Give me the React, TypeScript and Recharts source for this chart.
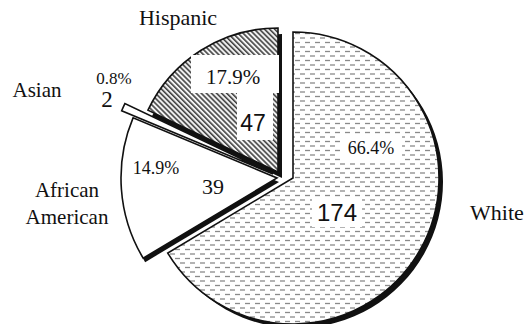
import { PieChart, Pie, Cell } from "recharts";

const groups = ["White", "African American", "Asian", "Hispanic"];
const counts = [174, 39, 2, 47];

const data = groups.map((name, i) => ({ name, count: counts[i] }));

const W = 527;
const H = 324;
const CX = 293;
const CY = 178;

// exploded offset, radius, fill and drop shadow for each slice (same order as groups)
const slices = [
  { dx: 0, dy: 0, r: 146, fill: "url(#white-dash)", sx: 4, sy: 4 },
  { dx: -16, dy: 0, r: 156, fill: "#fff", sx: 2, sy: 4 },
  { dx: -20, dy: -4, r: 164, fill: "#fff", sx: 0, sy: 0 },
  { dx: -15, dy: -6, r: 144, fill: "url(#hisp-hatch)", sx: 4, sy: 6 },
];

type Item = {
  kind: "pct" | "val" | "name";
  dx: number;
  dy: number;
  size: number;
  sans?: boolean;
  box?: [number, number, number, number];
};

// label placement relative to each slice's own centre
const layout: Item[][] = [
  [
    { kind: "pct", dx: 78, dy: -30, size: 18, box: [62, 26, 0, 0] },
    { kind: "val", dx: 44, dy: 34, size: 24, sans: true, box: [50, 30, 0, 0] },
    { kind: "name", dx: 204, dy: 34, size: 22 },
  ],
  [
    { kind: "pct", dx: -121, dy: -10, size: 18 },
    { kind: "val", dx: -64, dy: 8, size: 22 },
    { kind: "name", dx: -210, dy: 12, size: 21 },
  ],
  [
    { kind: "pct", dx: -159, dy: -96, size: 17 },
    { kind: "val", dx: -166, dy: -75, size: 23 },
    { kind: "name", dx: -236, dy: -84, size: 21 },
  ],
  [
    { kind: "pct", dx: -45, dy: -95, size: 21, box: [88, 38, 2, -3] },
    { kind: "val", dx: -25, dy: -49, size: 23, sans: true, box: [36, 48, 2, -7] },
    { kind: "name", dx: -100, dy: -155, size: 22 },
  ],
];

const serif = "'Liberation Serif', 'Times New Roman', serif";
const sans = "'Liberation Sans', Arial, sans-serif";

const makeLabel = (slice: number) => (p: any) => {
  if (p.index !== slice) return null;
  return (
    <g>
      {layout[slice].map((it, k) => {
        const x = p.cx + it.dx;
        const y = p.cy + it.dy;
        let lines: string[];
        if (it.kind === "pct") lines = [(p.percent * 100).toFixed(1) + "%"];
        else if (it.kind === "val") lines = [String(p.value)];
        else lines = p.name.split(" ");
        return (
          <g key={k}>
            {it.box && (
              <rect
                x={x - it.box[0] / 2 + it.box[2]}
                y={y - it.box[1] / 2 + it.box[3]}
                width={it.box[0]}
                height={it.box[1]}
                fill="#fff"
              />
            )}
            {lines.map((ln, j) => (
              <text
                key={j}
                x={x}
                y={y + j * 27}
                textAnchor="middle"
                dominantBaseline="central"
                fontSize={it.size}
                fontFamily={it.sans ? sans : serif}
                fill="#111"
              >
                {ln}
              </text>
            ))}
          </g>
        );
      })}
    </g>
  );
};

export default function App() {
  return (
    <div style={{ position: "absolute", left: 0, top: 0, width: W, height: H, background: "#fff" }}>
      <PieChart width={W} height={H} margin={{ top: 0, right: 0, bottom: 0, left: 0 }}>
        <defs>
          <pattern id="white-dash" width="10" height="9" patternUnits="userSpaceOnUse">
            <rect width="10" height="9" fill="#fff" />
            <line x1="0" y1="2" x2="5" y2="2" stroke="#8a8a8a" strokeWidth="1.3" />
            <line x1="5" y1="6.5" x2="10" y2="6.5" stroke="#8a8a8a" strokeWidth="1.3" />
          </pattern>
          <pattern
            id="hisp-hatch"
            width="3.6"
            height="3.6"
            patternUnits="userSpaceOnUse"
            patternTransform="rotate(-45)"
          >
            <rect width="3.6" height="3.6" fill="#f2f2f2" />
            <line x1="0.8" y1="0" x2="0.8" y2="3.6" stroke="#2a2a2a" strokeWidth="1.4" />
          </pattern>
        </defs>
        {slices.map((s, i) => [
          s.sx || s.sy ? (
            <Pie
              key={`shadow-${i}`}
              data={data}
              dataKey="count"
              nameKey="name"
              cx={CX + s.dx + s.sx}
              cy={CY + s.dy + s.sy}
              outerRadius={s.r}
              startAngle={90}
              endAngle={-270}
              isAnimationActive={false}
              labelLine={false}
            >
              {data.map((_, j) => (
                <Cell key={j} fill={j === i ? "#111" : "none"} stroke="none" />
              ))}
            </Pie>
          ) : null,
          <Pie
            key={`slice-${i}`}
            data={data}
            dataKey="count"
            nameKey="name"
            cx={CX + s.dx}
            cy={CY + s.dy}
            outerRadius={s.r}
            startAngle={90}
            endAngle={-270}
            isAnimationActive={false}
            labelLine={false}
            label={makeLabel(i)}
          >
            {data.map((_, j) => (
              <Cell
                key={j}
                fill={j === i ? s.fill : "none"}
                stroke={j === i ? "#111" : "none"}
                strokeWidth={1.6}
              />
            ))}
          </Pie>,
        ])}
      </PieChart>
    </div>
  );
}
